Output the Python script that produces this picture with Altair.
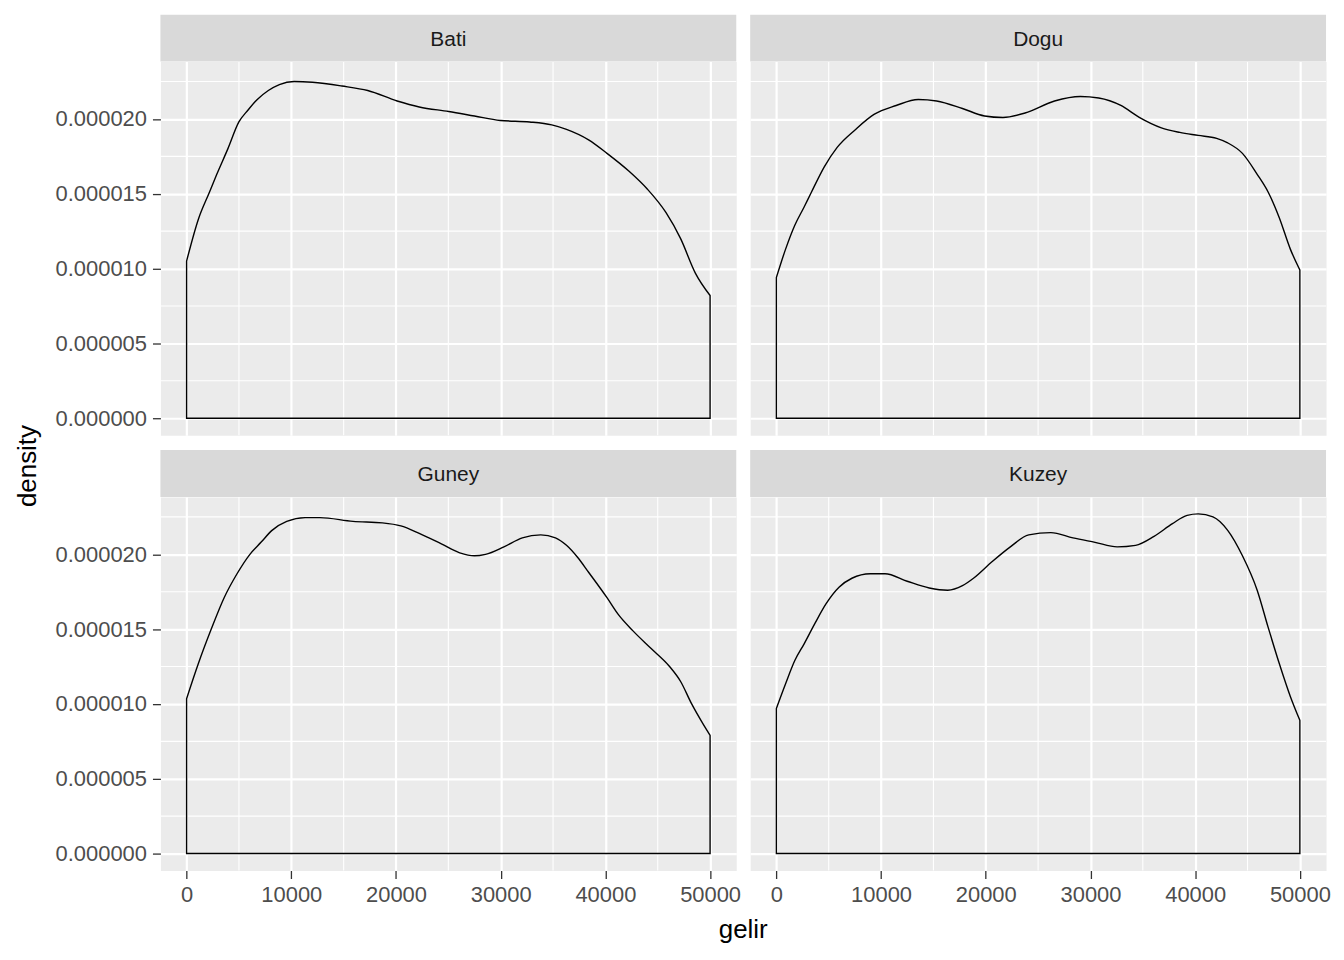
import altair as alt
import pandas as pd

REGIONS = ["Bati", "Dogu", "Guney", "Kuzey"]

# density values below are in units of 1e-6
bati_gelir = [0, 1125, 2180, 2883, 3938, 4993, 5872, 6751, 7806, 8861, 10267, 12025,
              14838, 17300, 20112, 22221, 25034, 27495, 29956, 32769, 34879, 36285,
              38395, 40153, 42263, 44021, 45779, 47186, 48592, 50000]
bati_density = [10.5, 13.3, 15.1, 16.3, 18.0, 19.8, 20.6, 21.3, 21.9, 22.3, 22.5, 22.45,
                22.2, 21.9, 21.2, 20.8, 20.5, 20.2, 19.9, 19.8, 19.6, 19.3,
                18.6, 17.7, 16.5, 15.3, 13.75, 12.0, 9.7, 8.2]

dogu_gelir = [0, 880, 1760, 2639, 3343, 4575, 5806, 7566, 9325, 11437, 13548, 15308,
              17771, 19882, 21642, 23753, 26568, 29032, 30791, 32903, 34662, 36774,
              38533, 40293, 42052, 43108, 44516, 45923, 46979, 48034, 49090, 50000]
dogu_density = [9.4, 11.3, 12.9, 14.1, 15.1, 16.8, 18.1, 19.3, 20.3, 20.9, 21.3, 21.2,
                20.7, 20.2, 20.1, 20.4, 21.2, 21.5, 21.4, 20.9, 20.1, 19.4,
                19.1, 18.9, 18.7, 18.4, 17.7, 16.3, 15.1, 13.4, 11.3, 9.9]

guney_gelir = [0, 1125, 2356, 3586, 4817, 6047, 7102, 8157, 9563, 11322, 12728, 15892,
               18705, 20463, 22221, 24331, 26089, 27495, 28550, 30308, 32066, 33824,
               35231, 36285, 37340, 38395, 40153, 41208, 42614, 44372, 46130, 47186,
               48241, 49296, 50000]
guney_density = [10.35, 12.7, 15.0, 17.1, 18.7, 20.0, 20.8, 21.6, 22.2, 22.45, 22.45, 22.2,
                 22.1, 21.9, 21.4, 20.7, 20.1, 19.9, 20.0, 20.5, 21.1, 21.3,
                 21.1, 20.6, 19.8, 18.8, 17.1, 16.0, 14.9, 13.7, 12.5, 11.5,
                 10.0, 8.7, 7.9]

kuzey_gelir = [0, 880, 1760, 2639, 3695, 4751, 5982, 7214, 8973, 10381, 12492, 14603,
               16363, 17771, 18826, 20586, 22345, 24105, 26216, 28328, 30439, 32551,
               34310, 36070, 37830, 39237, 40293, 41700, 43108, 44516, 45923, 46979,
               48034, 49090, 50000]
kuzey_density = [9.7, 11.35, 12.9, 14.0, 15.4, 16.7, 17.8, 18.4, 18.7, 18.7, 18.2, 17.75,
                 17.6, 17.9, 18.4, 19.5, 20.5, 21.3, 21.45, 21.1, 20.8, 20.5,
                 20.6, 21.2, 22.05, 22.6, 22.7, 22.5, 21.6, 19.9, 17.6, 15.1,
                 12.7, 10.5, 8.9]

X_MAJOR = [0, 10000, 20000, 30000, 40000, 50000]
X_MINOR = [5000, 15000, 25000, 35000, 45000]
Y_MAJOR = [0.0, 0.000005, 0.000010, 0.000015, 0.000020]
Y_MINOR = [0.0000025, 0.0000075, 0.0000125, 0.0000175, 0.0000225]
X_DOMAIN = [-2500, 52500]
Y_DOMAIN = [-0.000001135, 0.000023835]

series = {
    "Bati": (bati_gelir, bati_density),
    "Dogu": (dogu_gelir, dogu_density),
    "Guney": (guney_gelir, guney_density),
    "Kuzey": (kuzey_gelir, kuzey_density),
}
rows = []
for name in REGIONS:
    xs, ys = series[name]
    for gx, d in zip(xs, ys):
        rows.append({"region": name, "gelir": gx, "density": d * 1e-6})
df = pd.DataFrame(rows)
xminor_df = pd.DataFrame({"v": X_MINOR})
yminor_df = pd.DataFrame({"v": Y_MINOR})
strip_df = pd.DataFrame({"region": REGIONS})

W, H, STRIP = 578, 375, 47
FONT = "Liberation Sans"

xscale = alt.Scale(domain=X_DOMAIN, nice=False, zero=False)
yscale = alt.Scale(domain=Y_DOMAIN, nice=False, zero=False)


def panel(name, row, col):
    if row == 1:
        xkw = dict(values=X_MAJOR, format="d", grid=True)
        if col == 0:
            xkw.update(title="gelir", titleX=584.5, titleY=67, titleBaseline="alphabetic")
        else:
            xkw["title"] = None
    else:
        xkw = dict(values=X_MAJOR, labels=False, ticks=False, title=None, grid=True)
    if col == 0:
        ykw = dict(values=Y_MAJOR, format=".6f", grid=True)
        if row == 1:
            ykw.update(title="density", titleX=-133, titleY=-31.5, titleBaseline="middle",
                       titleAngle=270)
        else:
            ykw["title"] = None
    else:
        ykw = dict(values=Y_MAJOR, labels=False, ticks=False, title=None, grid=True)
    x_axis = alt.Axis(**xkw)
    y_axis = alt.Axis(**ykw)

    minor_x = alt.Chart(xminor_df).mark_rule(color="white", strokeWidth=1.1).encode(
        x=alt.X("v:Q", scale=xscale, axis=x_axis))
    minor_y = alt.Chart(yminor_df).mark_rule(color="white", strokeWidth=1.1).encode(
        y=alt.Y("v:Q", scale=yscale, axis=y_axis))
    dens = alt.Chart(df).transform_filter(alt.datum.region == name).mark_area(
        fillOpacity=0, stroke="black", strokeWidth=1.4, interpolate="monotone"
    ).encode(
        x=alt.X("gelir:Q", scale=xscale, axis=x_axis),
        y=alt.Y("density:Q", scale=yscale, axis=y_axis),
        y2=alt.datum(0),
    )
    strip_bg = alt.Chart(strip_df).transform_filter(alt.datum.region == name).mark_rect(
        color="#D9D9D9").encode(
        x=alt.value(0), x2=alt.value(W), y=alt.value(-STRIP), y2=alt.value(0))
    strip_txt = alt.Chart(strip_df).transform_filter(alt.datum.region == name).mark_text(
        font=FONT, fontSize=21, color="#1A1A1A", baseline="middle", align="center").encode(
        x=alt.value(W / 2), y=alt.value(-STRIP / 2 + 1.5), text="region:N")
    return alt.layer(minor_x, minor_y, dens, strip_bg, strip_txt).properties(width=W, height=H)


chart = alt.concat(
    panel("Bati", 0, 0), panel("Dogu", 0, 1),
    panel("Guney", 1, 0), panel("Kuzey", 1, 1),
    columns=2, spacing={"row": 62, "column": 14}, bounds="flush",
).properties(
    padding={"left": 6, "top": 4, "right": 5, "bottom": 5}
).configure_view(
    fill="#EBEBEB", stroke="transparent"
).configure_axis(
    domain=False,
    gridColor="white", gridWidth=2.2, gridOpacity=1,
    tickColor="#333333", tickWidth=1.3, tickSize=8,
    labelFont=FONT, labelFontSize=22, labelColor="#4D4D4D", labelPadding=6,
    titleFont=FONT, titleFontSize=26, titleFontWeight="normal", titleColor="black",
)

chart.save("out.html", embed_options={"renderer": "svg", "actions": False})
